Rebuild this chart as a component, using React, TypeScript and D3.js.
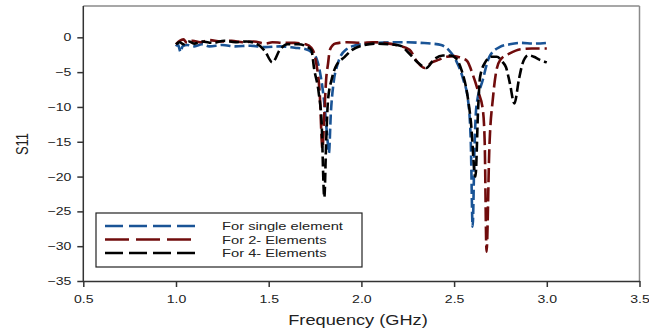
import { useRef, useEffect } from 'react';
import * as d3 from 'd3';

// S11 (dB) vs frequency (GHz)
const singleElement: [number, number][] = [
  [1.0, -1.3], [1.01, -1.0], [1.025, -2.1], [1.035, -1.3], [1.06, -1.1], [1.1, -1.3], [1.14, -1.0],
  [1.18, -1.3], [1.25, -1.1], [1.32, -1.3], [1.4, -1.2], [1.48, -1.4], [1.56, -1.3], [1.64, -1.5],
  [1.7, -1.7], [1.73, -2.1], [1.76, -3.2], [1.78, -5.5], [1.8, -9.5], [1.815, -14], [1.825, -16.6],
  [1.835, -11], [1.85, -6.5], [1.87, -4.0], [1.89, -2.6], [1.92, -1.7], [1.96, -1.2], [2.0, -1.0],
  [2.08, -0.8], [2.16, -0.7], [2.25, -0.7], [2.32, -0.8], [2.38, -0.9], [2.43, -1.1], [2.47, -1.8],
  [2.51, -3.3], [2.55, -6.1], [2.575, -9], [2.59, -15], [2.6, -27.2], [2.61, -16], [2.62, -10],
  [2.655, -6.1], [2.69, -2.8], [2.745, -1.4], [2.8, -1.0], [2.86, -0.8], [2.93, -0.9], [3.0, -0.8],
];

const twoElements: [number, number][] = [
  [1.0, -1.0], [1.02, -0.5], [1.04, -0.3], [1.06, -0.8], [1.09, -0.5], [1.13, -0.7], [1.18, -0.4],
  [1.24, -0.6], [1.3, -0.5], [1.36, -0.7], [1.42, -0.6], [1.48, -0.9], [1.52, -0.7], [1.58, -0.8],
  [1.64, -0.8], [1.7, -1.0], [1.73, -1.5], [1.755, -3.5], [1.775, -8], [1.79, -16], [1.8, -11],
  [1.81, -6], [1.82, -3.8], [1.83, -1.8], [1.86, -0.9], [1.92, -0.7], [2.0, -0.8], [2.06, -0.7],
  [2.12, -0.8], [2.2, -1.2], [2.26, -1.8], [2.3, -3.5], [2.34, -4.4], [2.38, -3.6], [2.42, -3.2],
  [2.46, -2.8], [2.5, -2.7], [2.54, -3.0], [2.57, -3.4], [2.6, -5.3], [2.63, -7.8], [2.655, -10.4],
  [2.665, -15], [2.675, -30.8], [2.69, -16], [2.71, -8.6], [2.73, -4.5], [2.75, -3.2], [2.8, -2.3],
  [2.86, -1.7], [2.92, -1.6], [3.0, -1.6],
];

const fourElements: [number, number][] = [
  [1.0, -1.0], [1.02, -0.7], [1.04, -1.0], [1.07, -0.6], [1.1, -0.9], [1.14, -0.6], [1.2, -0.8],
  [1.26, -0.5], [1.32, -0.7], [1.38, -0.6], [1.44, -1.0], [1.48, -2.0], [1.52, -3.6], [1.56, -1.8],
  [1.6, -1.0], [1.66, -1.0], [1.71, -1.4], [1.73, -1.8], [1.745, -4.5], [1.77, -8], [1.785, -12],
  [1.8, -23], [1.81, -15], [1.82, -9], [1.84, -6], [1.86, -4.3], [1.91, -2.8], [1.95, -1.8],
  [2.0, -1.2], [2.08, -0.9], [2.15, -1.0], [2.21, -1.2], [2.25, -2.1], [2.3, -3.5], [2.35, -4.4],
  [2.39, -3.2], [2.44, -2.6], [2.48, -2.6], [2.51, -3.0], [2.54, -4.7], [2.57, -8], [2.59, -12],
  [2.615, -20], [2.63, -10], [2.64, -5.7], [2.67, -3.5], [2.7, -2.8], [2.73, -2.8], [2.76, -3.5],
  [2.78, -4.3], [2.8, -6.5], [2.825, -9.5], [2.85, -6], [2.87, -3.7], [2.9, -2.6], [2.93, -2.8],
  [2.96, -3.2], [3.0, -3.6],
];

const seriesNames = ['For single element', 'For 2- Elements', 'For 4- Elements'];
const xTicks = [0.5, 1.0, 1.5, 2.0, 2.5, 3.0, 3.5];
const yTicks = [0, -5, -10, -15, -20, -25, -30, -35];

const COLORS = ['#1a5496', '#700c0c', '#000000'];
const DASH = ['10,4', '14,5', '10,4'];
const LEGEND_DASH = ['18,6', '24,7', '18,6'];
const FONT = '"Liberation Sans", Arial, sans-serif';
// the reference image is stretched sideways, so text is too
const STRETCH = 1.28;

const W = 649;
const H = 331;

export default function App() {
  const svgRef = useRef<SVGSVGElement>(null);

  useEffect(() => {
    const svg = d3.select(svgRef.current);
    svg.selectAll('*').remove();

    const left = 83.3, right = 639.5, top = 6, bottom = 281;
    const x = d3.scaleLinear().domain([0.5, 3.5]).range([left, right]);
    const y = d3.scaleLinear().domain([-35, 4.5]).range([bottom, top]);

    // frame
    svg.append('line').attr('x1', left).attr('x2', right).attr('y1', top).attr('y2', top)
      .attr('stroke', '#8a8a8a').attr('stroke-width', 1.5);
    svg.append('line').attr('x1', right).attr('x2', right).attr('y1', top).attr('y2', bottom)
      .attr('stroke', '#8a8a8a').attr('stroke-width', 1.5);

    const xAxis = svg.append('g').attr('transform', `translate(0,${bottom})`)
      .call(d3.axisBottom(x).tickValues(xTicks).tickFormat(d3.format('.1f')).tickSize(6).tickSizeOuter(0));
    const yAxis = svg.append('g').attr('transform', `translate(${left},0)`)
      .call(d3.axisLeft(y).tickValues(yTicks).tickFormat(d3.format('d')).tickSize(6).tickSizeOuter(0));

    [xAxis, yAxis].forEach(a => {
      a.select('.domain').attr('stroke', '#333').attr('stroke-width', 1.5);
      a.selectAll('.tick line').attr('stroke', '#333').attr('stroke-width', 1.5);
      a.selectAll('.tick text').attr('font-family', FONT).attr('font-size', 11).attr('fill', '#222');
    });
    yAxis.select('.domain').attr('d', `M0,${top}V${bottom}`);
    xAxis.selectAll('.tick text').attr('dy', '1.15em').attr('transform', `scale(${STRETCH},1)`);
    yAxis.selectAll('.tick text').attr('x', 0).attr('transform', `translate(-12,0) scale(${STRETCH},1)`);

    // axis titles
    svg.append('text').attr('transform', `translate(358,325) scale(1.23,1)`).attr('text-anchor', 'middle')
      .attr('font-family', FONT).attr('font-size', 14.8).attr('fill', '#222').text('Frequency (GHz)');
    svg.append('text').attr('transform', 'translate(27.5,144) rotate(-90) scale(1,1.28)').attr('text-anchor', 'middle')
      .attr('font-family', FONT).attr('font-size', 13).attr('fill', '#222').text('S11');

    // curves
    const line = d3.line<[number, number]>()
      .x(d => x(d[0]))
      .y(d => y(d[1]))
      .curve(d3.curveMonotoneX);

    const allSeries = [singleElement, twoElements, fourElements];
    allSeries.forEach((s, i) => {
      svg.append('path').datum(s).attr('d', line).attr('fill', 'none')
        .attr('stroke', COLORS[i]).attr('stroke-width', 2.6)
        .attr('stroke-dasharray', DASH[i]).attr('stroke-linejoin', 'round');
    });

    // legend
    const lg = svg.append('g');
    lg.append('rect').attr('x', 96).attr('y', 213).attr('width', 266).attr('height', 54)
      .attr('fill', '#fff').attr('stroke', '#222').attr('stroke-width', 1.2);
    seriesNames.forEach((name, i) => {
      const yy = 226 + i * 13.5;
      lg.append('line').attr('x1', 105).attr('x2', 195).attr('y1', yy).attr('y2', yy)
        .attr('stroke', COLORS[i]).attr('stroke-width', 2.6).attr('stroke-dasharray', LEGEND_DASH[i]);
      lg.append('text').attr('transform', `translate(222,${yy}) scale(${STRETCH},1)`).attr('dy', '0.36em')
        .attr('font-family', FONT).attr('font-size', 11.5).attr('fill', '#222').text(name);
    });
  }, []);

  return (
    <svg ref={svgRef} width={W} height={H}
      style={{ position: 'absolute', left: 0, top: 0, background: '#fff' }} />
  );
}
